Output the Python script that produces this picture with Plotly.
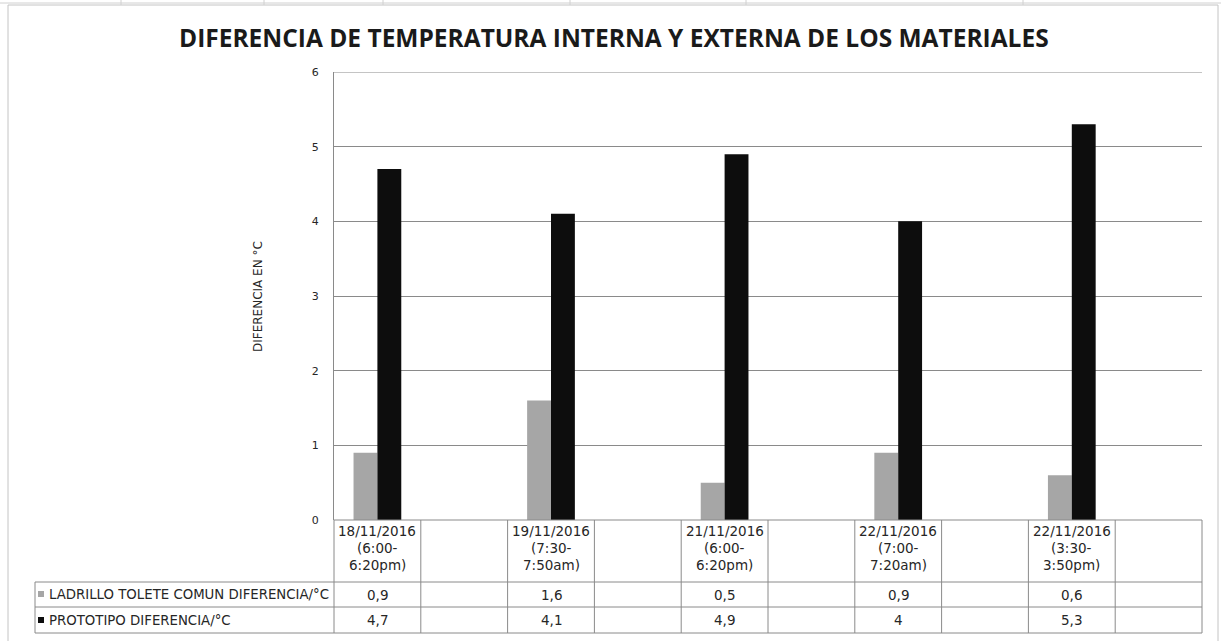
import plotly.graph_objects as go

# Chart data
fechas = ["18/11/2016", "19/11/2016", "21/11/2016", "22/11/2016", "22/11/2016"]
hora_inicio = ["(6:00-", "(7:30-", "(6:00-", "(7:00-", "(3:30-"]
hora_fin = ["6:20pm)", "7:50am)", "6:20pm)", "7:20am)", "3:50pm)"]
ladrillo = [0.9, 1.6, 0.5, 0.9, 0.6]
prototipo = [4.7, 4.1, 4.9, 4.0, 5.3]
serie_ladrillo = "LADRILLO TOLETE COMUN DIFERENCIA/°C"
serie_prototipo = "PROTOTIPO DIFERENCIA/°C"
y_ticks = [0, 1, 2, 3, 4, 5, 6]

W, H = 1221, 641
L, R, T, B = 334, 1202, 72, 520          # plot area in pixels
FONT = "DejaVu Sans"
GRID = "#8a8a8a"
GRAY = "#a6a6a6"
BLACK = "#0d0d0d"


def px(x):
    return (x - L) / (R - L)


def py(y):
    return (B - y) / (B - T)


# each reading is followed by an empty column in the source sheet
categorias = []
for i, (f, a, b) in enumerate(zip(fechas, hora_inicio, hora_fin)):
    categorias.append(f"{f} {a}{b}")
    categorias.append(" " * (i + 1))
lecturas = categorias[0::2]
ncat = len(categorias)


def fmt(v):
    return ("%g" % v).replace(".", ",")


fig = go.Figure()
fig.add_trace(go.Bar(x=lecturas, y=ladrillo, name=serie_ladrillo,
                     marker=dict(color=GRAY, line=dict(width=0))))
fig.add_trace(go.Bar(x=lecturas, y=prototipo, name=serie_prototipo,
                     marker=dict(color=BLACK, line=dict(width=0))))

shapes = []
annotations = []


def hline(y, x0, x1, color=GRID, layer="above"):
    shapes.append(dict(type="line", xref="paper", yref="paper", layer=layer,
                       x0=px(x0), x1=px(x1), y0=py(y), y1=py(y),
                       line=dict(color=color, width=1)))


def vline(x, y0, y1, color=GRID, paper_x=None):
    xx = paper_x if paper_x is not None else px(x)
    shapes.append(dict(type="line", xref="paper", yref="paper",
                       x0=xx, x1=xx, y0=py(y0), y1=py(y1),
                       line=dict(color=color, width=1)))


# top gridline at the axis maximum
shapes.append(dict(type="line", xref="paper", yref="y", x0=0, x1=1,
                   y0=y_ticks[-1], y1=y_ticks[-1], layer="below",
                   line=dict(color=GRID, width=1)))

# data table under the plot
ROW_HDR, ROW1, ROW2, ROW_END = 520, 582, 607, 633
TAB_LEFT = 35
hline(ROW_HDR, L, R)
for yy in (ROW1, ROW2, ROW_END):
    hline(yy, TAB_LEFT, R)
vline(TAB_LEFT, ROW1, ROW_END)
for k in range(ncat + 1):
    vline(None, ROW_HDR, ROW_END, paper_x=k / ncat)

# legend keys in the row headers
for (y0, y1), col in (((591, 597), GRAY), ((617, 623), BLACK)):
    shapes.append(dict(type="rect", xref="paper", yref="paper",
                       x0=px(38), x1=px(44), y0=py(y1), y1=py(y0),
                       fillcolor=col, line=dict(width=0)))

txt = dict(family=FONT, size=13.5, color="#262626")
lbl = dict(family=FONT, size=13.3, color="#262626")
for name, yy in ((serie_ladrillo, (ROW1 + ROW2) / 2), (serie_prototipo, (ROW2 + ROW_END) / 2)):
    annotations.append(dict(text=name, xref="paper", yref="paper", x=px(47), y=py(yy),
                            xanchor="left", yanchor="middle", showarrow=False, font=lbl))

for i, cat in enumerate(lecturas):
    for line_txt, yy in ((fechas[i], 531), (hora_inicio[i], 548), (hora_fin[i], 565)):
        annotations.append(dict(text=line_txt, xref="x", yref="paper", x=cat, y=py(yy),
                                xanchor="center", yanchor="middle", showarrow=False, font=txt))
    annotations.append(dict(text=fmt(ladrillo[i]), xref="x", yref="paper", x=cat,
                            y=py((ROW1 + ROW2) / 2), xanchor="center", yanchor="middle",
                            showarrow=False, font=txt))
    annotations.append(dict(text=fmt(prototipo[i]), xref="x", yref="paper", x=cat,
                            y=py((ROW2 + ROW_END) / 2), xanchor="center", yanchor="middle",
                            showarrow=False, font=txt))

# axis title
annotations.append(dict(text="DIFERENCIA EN °C", xref="paper", yref="paper", x=px(258), y=py(297),
                        textangle=-90, xanchor="center", yanchor="middle", showarrow=False,
                        font=dict(family=FONT, size=12, color="#262626")))

# chart title
annotations.append(dict(text="<b>DIFERENCIA DE TEMPERATURA INTERNA Y EXTERNA DE LOS MATERIALES</b>",
                        xref="paper", yref="paper", x=px(614), y=py(37), xanchor="center",
                        yanchor="middle", showarrow=False,
                        font=dict(family="Open Sans", size=24.5, color="#1a1a1a")))

# chart frame and sheet cell borders
FRAME = "#c4c4c4"
shapes.append(dict(type="rect", xref="paper", yref="paper",
                   x0=px(8), x1=px(1218), y0=py(660), y1=py(5),
                   line=dict(color=FRAME, width=1)))
hline(3, 0, W, color="#d0d0d0")
for xx in (121, 264, 383, 570, 746, 1023):
    vline(xx, 0, 5, color="#d0d0d0")

fig.update_layout(
    width=W, height=H,
    margin=dict(l=L, r=W - R, t=T, b=H - B, pad=0),
    paper_bgcolor="white", plot_bgcolor="white",
    barmode="group", bargap=0.45, bargroupgap=0,
    showlegend=False,
    shapes=shapes, annotations=annotations,
    font=dict(family=FONT, color="#262626"),
)
fig.update_xaxes(type="category", categoryorder="array", categoryarray=categorias,
                 range=[-0.5, ncat - 0.5], showticklabels=False, showgrid=False,
                 zeroline=False, showline=False, ticks="")
fig.update_yaxes(range=[0, 6], tickvals=y_ticks, showgrid=True, gridcolor=GRID, gridwidth=1,
                 zeroline=False, showline=True, linecolor=GRID, linewidth=1, ticks="",
                 ticklabelstandoff=12, tickfont=dict(family=FONT, size=11, color="#262626"))

fig.write_html("out.html")
